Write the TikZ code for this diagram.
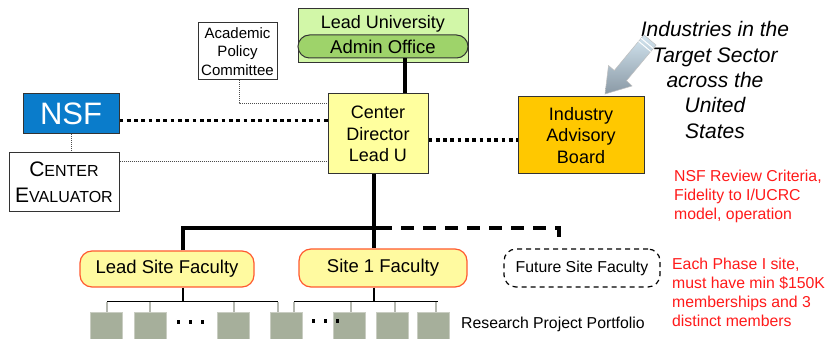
\documentclass[tikz,border=0pt]{standalone}
\usepackage{fontspec}
\setmainfont{Liberation Sans}
\definecolor{lugreen}{HTML}{D2F7A8}
\definecolor{admgreen}{HTML}{9ED36A}
\definecolor{nsfblue}{HTML}{0A7CCB}
\definecolor{cdyellow}{HTML}{FFFF9E}
\definecolor{iabgold}{HTML}{FFC800}
\definecolor{facfill}{HTML}{FFFAA0}
\definecolor{facline}{HTML}{FF5A30}
\definecolor{sqfill}{HTML}{A6AF9B}
\definecolor{sqline}{HTML}{C9CDC2}
\definecolor{tickgray}{HTML}{B5B8B0}
\definecolor{boxline}{HTML}{333333}
\definecolor{arrowlight}{HTML}{D3E5F0}
\definecolor{arrowdark}{HTML}{8A99A5}
\definecolor{redtext}{HTML}{FF1A1A}
\newcommand\bigletter[1]{{\fontsize{21}{26}\selectfont #1}}
\tikzset{
  box/.style={draw=boxline, line width=1pt, align=center, inner sep=0pt},
  faculty/.style={draw=facline, fill=facfill, line width=1.2pt, rounded corners=12pt, inner sep=0pt, font=\fontsize{18.5}{21}\selectfont},
  thickline/.style={line width=3.5pt},
  thickdot/.style={line width=3.5pt, dash pattern=on 3.7pt off 3.6pt},
  thindot/.style={line width=0.8pt, dash pattern=on 1pt off 1pt, draw=black!70},
  dashline/.style={line width=3.5pt, dash pattern=on 13pt off 9pt, dash phase=13pt},
  treebar/.style={line width=1.8pt},
  ticks/.style={line width=1.3pt, draw=tickgray},
  square/.style={draw=sqline, fill=sqfill, line width=0.8pt, minimum width=32pt, minimum height=32pt, inner sep=0pt},
  redlines/.style={text=redtext, align=left, anchor=west, inner sep=0pt, font=\fontsize{15.8}{19}\selectfont}
}
\begin{document}
\begin{tikzpicture}[x=1pt, y=-1pt]
\useasboundingbox (0,0) rectangle (831,339);
\fill[white] (0,0) rectangle (831,339);

% Lead University / Admin Office
\node[box, fill=lugreen, minimum width=170pt, minimum height=54pt] (lu) at (383,36) {};
\node[inner sep=0pt, font=\fontsize{18}{20}\selectfont] (luname) at (383,24) {Lead University};
\node[draw=boxline, fill=admgreen, line width=1pt, rounded corners=11.5pt, minimum width=170pt, minimum height=23pt, inner sep=0pt, font=\fontsize{18.5}{20}\selectfont] (adm) at (383,46.5) {Admin Office};

% Academic Policy Committee
\node[box, fill=white, minimum width=79pt, minimum height=57pt, font=\fontsize{15}{18.7}\selectfont] (apc) at (237.5,51.5) {Academic\\Policy\\Committee};

% NSF
\node[box, fill=nsfblue, text=white, minimum width=96pt, minimum height=40pt, font=\fontsize{31}{34}\selectfont] (nsf) at (71,114) {NSF};

% Center Evaluator
\node[box, fill=white, minimum width=110pt, minimum height=59pt, font=\fontsize{16}{26}\selectfont] (ce) at (64,182.5) {\bigletter{C}ENTER\\\bigletter{E}VALUATOR};

% Center Director
\node[box, fill=cdyellow, minimum width=100pt, minimum height=80pt, font=\fontsize{18}{21.7}\selectfont] (cd) at (378,134) {Center\\Director\\Lead U};

% Industry Advisory Board
\node[box, fill=iabgold, minimum width=126pt, minimum height=77pt, font=\fontsize{18}{21.7}\selectfont] (iab) at (581,135.5) {Industry\\Advisory\\Board};

% Industries text
\node[inner sep=0pt, align=center, font=\itshape\fontsize{21}{25.3}\selectfont] (ind) at (715,80) {Industries in the\\Target Sector\\across the\\United\\States};

% Big arrow
\shade[top color=arrowlight, bottom color=arrowdark, draw=black!25, line width=0.5pt]
  (605,94) -- (632,86) -- (626.5,80.7) -- (656.1,45.1) -- (643.9,34.9) -- (614.3,70.5) -- (608.5,65.5) -- cycle;
\draw[white, line width=1pt] (650.8,51.5) -- (638.6,41.3);
\draw[white, line width=1pt] (653.3,48.4) -- (641.1,38.2);

% Red notes
\node[redlines] (crit) at (674,196) {NSF Review Criteria,\\Fidelity to I/UCRC\\model, operation};
\node[redlines] (phase) at (672,292) {Each Phase I site,\\must have min \$150K\\memberships and 3\\distinct members};

% Faculty nodes
\node[faculty, minimum width=174pt, minimum height=36pt] (lead) at (167,269) {Lead Site Faculty};
\node[faculty, minimum width=168pt, minimum height=38pt] (site1) at (383,268) {Site 1 Faculty};
\node[draw=black, line width=1.2pt, dash pattern=on 5pt off 4pt, rounded corners=12pt, minimum width=156pt, minimum height=38pt, inner sep=0pt, font=\fontsize{15.8}{18}\selectfont] (future) at (582,268) {Future Site Faculty};

% Connectors top
\draw[thickline] ([xshift=22pt]adm.south) -- ([xshift=22pt]adm.south |- cd.north);
\draw[thickdot] ([yshift=-6.7pt]nsf.east) -- ([yshift=-6.7pt]nsf.east -| cd.west);
\draw[thickdot] ([yshift=-6pt]cd.east) -- ([yshift=-6pt]cd.east -| iab.west);
\draw[thindot] ([xshift=1.5pt]apc.south) |- ([yshift=-10pt]cd.north west);
\draw[thindot] (nsf.south) -- (nsf.south |- ce.north);
\draw[thindot] ([yshift=-9pt]ce.north east) -- ([yshift=-9pt]ce.north east -| cd.west);

% Connectors to sites
\coordinate (barend) at (392,228);
\coordinate (dashcorner) at (559,228);
\coordinate (dashend) at (559,243);
\draw[thickline] ([xshift=-4pt]cd.south) -- ([xshift=-4pt]cd.south |- site1.north);
\draw[thickline] ([xshift=16pt]lead.north) |- (barend);
\draw[dashline] (barend) -- (dashcorner) -- (dashend);

% Research project squares
\node[square] (s1) at (106,328) {};
\node[square] (s2) at (150,328) {};
\node[square] (s3) at (233,328) {};
\node[square] (s4) at (286,328) {};
\node[square] (s5) at (349,328) {};
\node[square] (s6) at (392,328) {};
\node[square] (s7) at (433,328) {};

% ellipsis dots
\foreach \x in {177,189,201} \fill (\x,320.5) rectangle ++(3.2,3.2);
\foreach \x in {312,324,336} \fill (\x,319.5) rectangle ++(3.2,3.2);

% Lead tree
\draw[ticks] ([xshift=1pt]s1.north) -- ++(0,-10);
\draw[ticks] (s2.north) -- ++(0,-10);
\draw[ticks] ([xshift=1pt]s3.north) -- ++(0,-10);
\draw[ticks] ([xshift=-8pt]s4.north) -- ++(0,-10);
\draw[treebar] ([xshift=1pt,yshift=10pt]s1.north) -- ([xshift=-8pt,yshift=10pt]s4.north);
\draw[treebar] ([xshift=16pt]lead.south) -- ([xshift=16pt,yshift=10pt]lead.south |- s1.north);

% Site 1 tree
\draw[ticks] ([xshift=8pt]s4.north) -- ++(0,-10);
\draw[ticks] ([xshift=2pt]s5.north) -- ++(0,-10);
\draw[ticks] ([xshift=3pt]s6.north) -- ++(0,-10);
\draw[ticks] ([xshift=3pt]s7.north) -- ++(0,-10);
\draw[treebar] ([xshift=8pt,yshift=10pt]s4.north) -- ([xshift=4.5pt,yshift=10pt]s7.north);
\draw[treebar] ([xshift=-9pt]site1.south) -- ([xshift=-9pt,yshift=10pt]site1.south |- s4.north);

% Portfolio label
\node[inner sep=0pt, anchor=west, font=\fontsize{15.8}{18}\selectfont] (rpp) at (461,324) {Research Project Portfolio};
\end{tikzpicture}
\end{document}
